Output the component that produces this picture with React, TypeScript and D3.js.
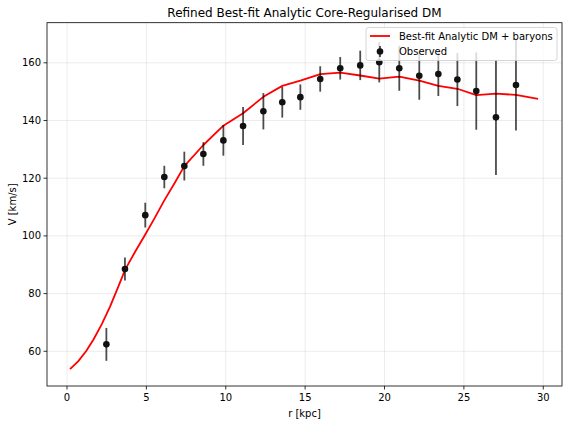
import React from "react";
import * as d3 from "d3";

const obsR = [2.48, 3.65, 4.93, 6.13, 7.39, 8.59, 9.85, 11.09, 12.37, 13.56, 14.7, 15.95, 17.21, 18.47, 19.67, 20.93, 22.19, 23.39, 24.59, 25.78, 27.02, 28.28];
const obsV = [62.4, 88.5, 107.2, 120.4, 124.2, 128.4, 133.1, 138.1, 143.2, 146.3, 148.1, 154.4, 158.1, 159.1, 160.2, 158.1, 155.5, 156.1, 154.2, 150.2, 141.1, 152.3];
const obsErr = [5.7, 4.0, 4.3, 3.9, 5.0, 4.1, 5.3, 6.6, 6.3, 5.3, 4.4, 4.4, 3.9, 5.1, 7.0, 7.8, 8.3, 7.6, 9.2, 13.4, 20.0, 15.8];

const modelR = [0.19, 0.7, 1.2, 1.66, 2.2, 2.71, 3.2, 3.67, 4.3, 4.93, 5.5, 6.13, 6.8, 7.39, 8.59, 9.85, 11.09, 12.37, 13.56, 14.7, 15.96, 17.21, 18.47, 19.67, 20.93, 22.19, 23.39, 24.59, 25.78, 27.02, 28.28, 29.67];
const modelV = [53.8, 56.5, 60.0, 64.0, 69.5, 75.5, 82.0, 88.4, 94.6, 100.5, 106.0, 112.3, 118.5, 124.2, 131.5, 138.2, 142.5, 148.2, 152.0, 153.8, 156.1, 156.6, 155.6, 154.5, 155.2, 153.8, 152.0, 151.0, 148.8, 149.3, 148.9, 147.5];

const xTicks = [0, 5, 10, 15, 20, 25, 30];
const yTicks = [60, 80, 100, 120, 140, 160];

const title = "Refined Best-fit Analytic Core-Regularised DM";
const xLabel = "r [kpc]";
const yLabel = "V [km/s]";
const lineLabel = "Best-fit Analytic DM + baryons";
const obsLabel = "Observed";

export default function App() {
  const W = 568, H = 424;
  const L = 47, R = 562, T = 22.7, B = 386;
  const x = d3.scaleLinear().domain([-1.26, 31.18]).range([L, R]);
  const y = d3.scaleLinear().domain([47.97, 173.9]).range([B, T]);
  const line = d3.line<number>().x((_, i) => x(modelR[i])).y((d) => y(d));
  const font = "DejaVu Sans, sans-serif";

  const legL = 366, legT = 27.5, legW = 191, legH = 33;

  return (
    <svg width={W} height={H} style={{ position: "absolute", left: 0, top: 0 }} fontFamily={font}>
      <rect x={0} y={0} width={W} height={H} fill="#fff" />
      {/* grid */}
      {xTicks.map((t) => (
        <line key={"gx" + t} x1={x(t)} x2={x(t)} y1={T} y2={B} stroke="#b0b0b0" strokeOpacity={0.3} strokeWidth={0.8} />
      ))}
      {yTicks.map((t) => (
        <line key={"gy" + t} x1={L} x2={R} y1={y(t)} y2={y(t)} stroke="#b0b0b0" strokeOpacity={0.3} strokeWidth={0.8} />
      ))}
      {/* model curve */}
      <path d={line(modelV) || ""} fill="none" stroke="#ff0000" strokeWidth={1.8} strokeLinejoin="round" />
      {/* error bars */}
      {obsR.map((r, i) => (
        <line key={"e" + i} x1={x(r)} x2={x(r)} y1={y(obsV[i] - obsErr[i])} y2={y(obsV[i] + obsErr[i])} stroke="#000" strokeOpacity={0.7} strokeWidth={1.8} />
      ))}
      {obsR.map((r, i) => (
        <circle key={"p" + i} cx={x(r)} cy={y(obsV[i])} r={3.3} fill="#111" />
      ))}
      {/* spines */}
      <rect x={L} y={T} width={R - L} height={B - T} fill="none" stroke="#000" strokeWidth={0.8} />
      {/* ticks */}
      {xTicks.map((t) => (
        <g key={"xt" + t}>
          <line x1={x(t)} x2={x(t)} y1={B} y2={B + 3.5} stroke="#000" strokeWidth={0.8} />
          <text x={x(t)} y={B + 15} fontSize={10} textAnchor="middle" fill="#000">{t}</text>
        </g>
      ))}
      {yTicks.map((t) => (
        <g key={"yt" + t}>
          <line x1={L - 3.5} x2={L} y1={y(t)} y2={y(t)} stroke="#000" strokeWidth={0.8} />
          <text x={L - 6} y={y(t) + 3.6} fontSize={10} textAnchor="end" fill="#000">{t}</text>
        </g>
      ))}
      {/* labels */}
      <text x={(L + R) / 2} y={417} fontSize={10} textAnchor="middle">{xLabel}</text>
      <text transform={`translate(15.5, ${(T + B) / 2}) rotate(-90)`} fontSize={10} textAnchor="middle">{yLabel}</text>
      <text x={(L + R) / 2} y={17} fontSize={12} textAnchor="middle">{title}</text>
      {/* legend */}
      <rect x={legL} y={legT} width={legW} height={legH} rx={2.5} fill="#fff" fillOpacity={0.8} stroke="#cccccc" strokeWidth={0.8} />
      <line x1={legL + 4} x2={legL + 24} y1={legT + 8.5} y2={legT + 8.5} stroke="#ff0000" strokeWidth={1.8} />
      <text x={legL + 33} y={legT + 12} fontSize={10}>{lineLabel}</text>
      <line x1={legL + 14} x2={legL + 14} y1={legT + 18.5} y2={legT + 29.5} stroke="#000" strokeOpacity={0.7} strokeWidth={1.8} />
      <circle cx={legL + 14} cy={legT + 24} r={3.3} fill="#111" />
      <text x={legL + 33} y={legT + 27.5} fontSize={10}>{obsLabel}</text>
    </svg>
  );
}
